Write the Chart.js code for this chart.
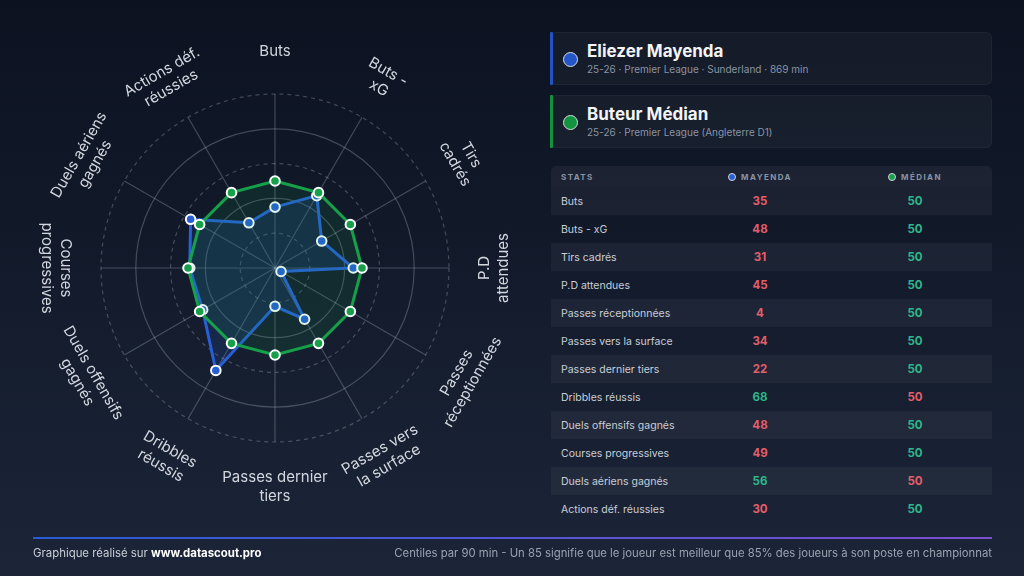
<!DOCTYPE html>
<html lang="fr">
<head>
<meta charset="utf-8">
<script src="https://cdn.jsdelivr.net/npm/chart.js@4.4.1/dist/chart.umd.min.js"></script>
<style>
  html, body { margin: 0; padding: 0; }
  body {
    width: 1024px; height: 576px; overflow: hidden; position: relative;
    font-family: Inter, "Noto Sans", sans-serif;
    background: linear-gradient(180deg, #0c1220 0%, #131b2c 50%, #1c2538 100%);
    color: #e6e9ef;
  }
  #radarBox { position: absolute; left: 0; top: 0; width: 550px; height: 576px; }
  .card {
    position: absolute; left: 550px; width: 442px; height: 53px;
    background: rgba(255,255,255,0.035); border: 1px solid rgba(255,255,255,0.04);
    border-radius: 6px; box-sizing: border-box;
  }
  .card .bar { position: absolute; left: -1px; top: -1px; bottom: -1px; width: 3px; border-radius: 1px; }
  .card .dot { position: absolute; left: 12px; top: 19px; width: 13px; height: 13px; border-radius: 50%; border: 1.5px solid #d8dce4; }
  .card .name { position: absolute; left: 36px; top: 8px; font-size: 17px; font-weight: 700; color: #f2f4f7; }
  .card .sub { position: absolute; left: 36px; top: 30px; font-size: 10px; color: #8a93a4; }
  #stats { position: absolute; left: 551px; top: 166px; width: 441px; }
  .row { position: relative; height: 28px; font-size: 10.5px; }
  .row.odd { background: rgba(255,255,255,0.045); }
  .row.head { height: 21px; background: rgba(255,255,255,0.05); border-radius: 5px 5px 0 0; font-size: 8px; font-weight: 700; letter-spacing: 1.4px; color: #8a93a4; }
  .cell { position: absolute; top: 0; height: 100%; display: flex; align-items: center; }
  .c1 { left: 10px; color: #c9ced7; white-space: nowrap; }
  .c2 { left: 131px; width: 156px; justify-content: center; font-weight: 700; font-size: 11.5px; }
  .c3 { left: 287px; width: 154px; justify-content: center; font-weight: 700; font-size: 11.5px; }
  .head .c1 { color: #8a93a4; }
  .head .c2, .head .c3 { font-size: 8px; }
  .hdot { display: inline-block; width: 6px; height: 6px; border-radius: 50%; margin-right: 5px; border: 1px solid #cfd4dc; }
  #footLine { position: absolute; left: 33px; top: 537px; width: 959px; height: 2px; background: linear-gradient(90deg, #2a5bd7, #7b4fd0); }
  #footL { position: absolute; left: 33px; top: 546px; font-size: 11.4px; color: #c9ced7; }
  #footL b { color: #ffffff; }
  #footR { position: absolute; right: 32px; top: 546px; font-size: 11.3px; color: #9aa2b1; }
</style>
</head>
<body>
<div id="radarBox"><canvas id="radar"></canvas></div>

<div class="card" style="top:32px">
  <div class="bar" style="background:#2452c4"></div>
  <div class="dot" style="background:#2456c8"></div>
  <div class="name">Eliezer Mayenda</div>
  <div class="sub">25-26 · Premier League · Sunderland · 869 min</div>
</div>
<div class="card" style="top:95px">
  <div class="bar" style="background:#12923f"></div>
  <div class="dot" style="background:#13933f"></div>
  <div class="name">Buteur Médian</div>
  <div class="sub">25-26 · Premier League (Angleterre D1)</div>
</div>

<div id="stats"></div>

<div id="footLine"></div>
<div id="footL">Graphique réalisé sur <b>www.datascout.pro</b></div>
<div id="footR">Centiles par 90 min - Un 85 signifie que le joueur est meilleur que 85% des joueurs à son poste en championnat</div>

<script>
// Percentiles per 90 min
const categories = ['Buts', 'Buts - xG', 'Tirs cadrés', 'P.D attendues', 'Passes réceptionnées',
    'Passes vers la surface', 'Passes dernier tiers', 'Dribbles réussis', 'Duels offensifs gagnés',
    'Courses progressives', 'Duels aériens gagnés', 'Actions déf. réussies'];

// same labels, broken in lines for the radar
const radarLabels = [['Buts'], ['Buts -', 'xG'], ['Tirs', 'cadrés'], ['P.D', 'attendues'],
    ['Passes', 'réceptionnées'], ['Passes vers', 'la surface'], ['Passes dernier', 'tiers'],
    ['Dribbles', 'réussis'], ['Duels offensifs', 'gagnés'], ['Courses', 'progressives'],
    ['Duels aériens', 'gagnés'], ['Actions déf.', 'réussies']];

const mayenda = [35, 48, 31, 45, 4, 34, 22, 68, 48, 49, 56, 30];
const median = [50, 50, 50, 50, 50, 50, 50, 50, 50, 50, 50, 50];
const tickValues = [0, 20, 40, 60, 80, 100];

const BLUE = '#2760d6';
const GREEN = '#16a04a';
const RED_TXT = '#e25e69';
const GREEN_TXT = '#2fb58a';

// Stats table
const stats = document.getElementById('stats');
stats.innerHTML = `
    <div class="row head">
        <div class="cell c1">STATS</div>
        <div class="cell c2"><span class="hdot" style="background:${BLUE}"></span>MAYENDA</div>
        <div class="cell c3"><span class="hdot" style="background:${GREEN}"></span>MÉDIAN</div>
    </div>`;
categories.forEach((name, i) => {
    const a = mayenda[i], b = median[i];
    const row = document.createElement('div');
    row.className = 'row' + (i % 2 === 0 ? ' odd' : '');
    row.innerHTML = `
        <div class="cell c1">${name}</div>
        <div class="cell c2" style="color:${a > b ? GREEN_TXT : RED_TXT}">${a}</div>
        <div class="cell c3" style="color:${b > a ? GREEN_TXT : RED_TXT}">${b}</div>`;
    stats.appendChild(row);
});

// Tangential axis labels (Chart.js point labels can't rotate)
const rotatedLabels = {
    id: 'rotatedLabels',
    afterDraw(chart) {
        const scale = chart.scales.r;
        const ctx = chart.ctx;
        const n = radarLabels.length;
        ctx.save();
        ctx.font = '15px Inter, "Noto Sans", sans-serif';
        ctx.fillStyle = '#d2d6de';
        ctx.textAlign = 'center';
        ctx.textBaseline = 'middle';
        radarLabels.forEach((lines, i) => {
            const deg = i * 360 / n;
            const pos = scale.getPointPosition(i, scale.drawingArea + 44);
            const rot = deg < 90 ? deg : (deg <= 270 ? deg - 180 : deg - 360);
            ctx.save();
            ctx.translate(pos.x, pos.y);
            ctx.rotate(rot * Math.PI / 180);
            lines.forEach((t, k) => ctx.fillText(t, 0, (k - (lines.length - 1) / 2) * 18.5 + 1));
            ctx.restore();
        });
        ctx.restore();
    }
};

const gridColor = 'rgba(205,212,225,0.27)';

new Chart(document.getElementById('radar'), {
    type: 'radar',
    data: {
        labels: categories,
        datasets: [{
            label: 'Buteur Médian',
            data: median,
            order: 0,
            borderColor: GREEN,
            backgroundColor: 'rgba(22,160,74,0.13)',
            borderWidth: 3,
            pointRadius: 4.8,
            pointBorderWidth: 2,
            pointBorderColor: '#ffffff',
            pointBackgroundColor: GREEN,
            fill: true
        }, {
            label: 'Eliezer Mayenda',
            data: mayenda,
            order: 1,
            borderColor: BLUE,
            backgroundColor: 'rgba(39,96,214,0.17)',
            borderWidth: 3,
            pointRadius: 4.8,
            pointBorderWidth: 2,
            pointBorderColor: '#ffffff',
            pointBackgroundColor: BLUE,
            fill: true
        }]
    },
    options: {
        responsive: true,
        maintainAspectRatio: false,
        animation: false,
        layout: { padding: { left: 101, right: 101, top: 94, bottom: 134 } },
        plugins: {
            legend: { display: false },
            tooltip: { enabled: false }
        },
        elements: { line: { tension: 0 } },
        scales: {
            r: {
                min: 0,
                max: 100,
                afterBuildTicks: (scale) => { scale.ticks = tickValues.map(v => ({ value: v })); },
                ticks: { display: false },
                grid: { circular: true, color: gridColor, lineWidth: 1.2 },
                border: { dash: (c) => (c.index % 2 === 1 ? [4, 4] : []) },
                angleLines: { color: gridColor, lineWidth: 1.2 },
                pointLabels: { display: false }
            }
        }
    },
    plugins: [rotatedLabels]
});
</script>
</body>
</html>
